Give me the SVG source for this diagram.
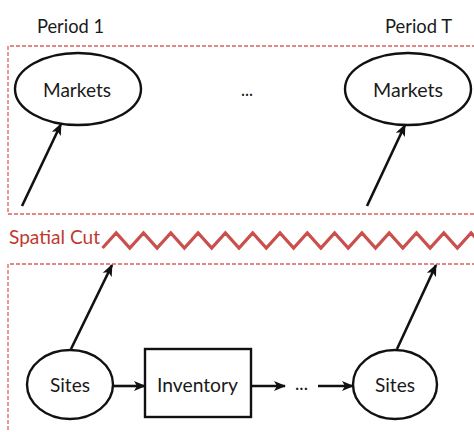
<svg xmlns="http://www.w3.org/2000/svg" width="474" height="432" viewBox="0 0 474 432">
  <style>
    .lbl { font-family: "Lato", "Liberation Sans", sans-serif; font-size: 20px; fill: #1a1a1a; }
    .node { fill: #ffffff; stroke: #111111; stroke-width: 2.4; }
    .edge { fill: none; stroke: #111111; stroke-width: 2.6; marker-end: url(#head); }
    .frame { fill: none; stroke: #d9625f; stroke-width: 1.3; stroke-dasharray: 4 2; }
    .cut { fill: none; stroke: #c9504c; stroke-width: 3.2; stroke-linejoin: miter; }
    .cutlbl { font-family: "Lato", "Liberation Sans", sans-serif; font-size: 19px; fill: #c0392f; }
  </style>
  <defs>
    <marker id="head" markerUnits="userSpaceOnUse" markerWidth="12" markerHeight="12" viewBox="0 0 12 12" refX="11" refY="6" orient="auto">
      <path d="M0,1 L12,6 L0,11 L3,6 z" fill="#111111"/>
    </marker>
  </defs>

  <!-- period headings -->
  <text class="lbl" x="37" y="33" textLength="67" lengthAdjust="spacingAndGlyphs">Period 1</text>
  <text class="lbl" x="385" y="33" textLength="67" lengthAdjust="spacingAndGlyphs">Period T</text>

  <!-- dashed frames for the market and site layers -->
  <path class="frame" d="M476,46 H8 V214 H476"/>
  <path class="frame" d="M476,264 H8 V434"/>

  <!-- spatial cut -->
  <text class="cutlbl" x="9" y="244" textLength="91" lengthAdjust="spacingAndGlyphs">Spatial Cut</text>
  <polyline class="cut" points="102.5,248 116.2,233 129.8,248 143.5,233 157.1,248 170.8,233 184.4,248 198.1,233 211.7,248 225.4,233 239,248 252.7,233 266.3,248 280,233 293.6,248 307.3,233 320.9,248 334.6,233 348.2,248 361.9,233 375.5,248 389.2,233 402.8,248 416.5,233 430.1,248 443.8,233 457.4,248 471.1,233 484.7,248"/>

  <!-- connectors -->
  <g id="connectors">
    <line class="edge" x1="22" y1="206" x2="61" y2="124"/>
    <line class="edge" x1="367" y1="206" x2="405" y2="125"/>
    <line class="edge" x1="71" y1="349" x2="112" y2="265"/>
    <line class="edge" x1="397" y1="349" x2="436" y2="265"/>
    <line class="edge" x1="113" y1="386" x2="145" y2="386"/>
    <line class="edge" x1="251" y1="386" x2="285" y2="386"/>
    <line class="edge" x1="318" y1="386" x2="353" y2="386"/>
  </g>

  <!-- nodes -->
  <g id="markets-1">
    <ellipse class="node" cx="78" cy="89" rx="63" ry="36"/>
    <text class="lbl" x="43" y="97" textLength="68" lengthAdjust="spacingAndGlyphs">Markets</text>
  </g>
  <g id="markets-gap">
    <text class="lbl" x="241" y="96" textLength="12" lengthAdjust="spacingAndGlyphs">...</text>
  </g>
  <g id="markets-T">
    <ellipse class="node" cx="408" cy="89" rx="63" ry="36"/>
    <text class="lbl" x="373" y="97" textLength="70" lengthAdjust="spacingAndGlyphs">Markets</text>
  </g>
  <g id="sites-1">
    <ellipse class="node" cx="70" cy="384.5" rx="43" ry="34.5"/>
    <text class="lbl" x="50" y="392" textLength="40" lengthAdjust="spacingAndGlyphs">Sites</text>
  </g>
  <g id="inventory">
    <rect class="node" x="145" y="349" width="106" height="68"/>
    <text class="lbl" x="157" y="392" textLength="81" lengthAdjust="spacingAndGlyphs">Inventory</text>
  </g>
  <g id="sites-gap">
    <text class="lbl" x="295" y="390" textLength="13" lengthAdjust="spacingAndGlyphs">...</text>
  </g>
  <g id="sites-T">
    <ellipse class="node" cx="395" cy="384.5" rx="42" ry="34.5"/>
    <text class="lbl" x="375" y="392" textLength="40" lengthAdjust="spacingAndGlyphs">Sites</text>
  </g>
</svg>
